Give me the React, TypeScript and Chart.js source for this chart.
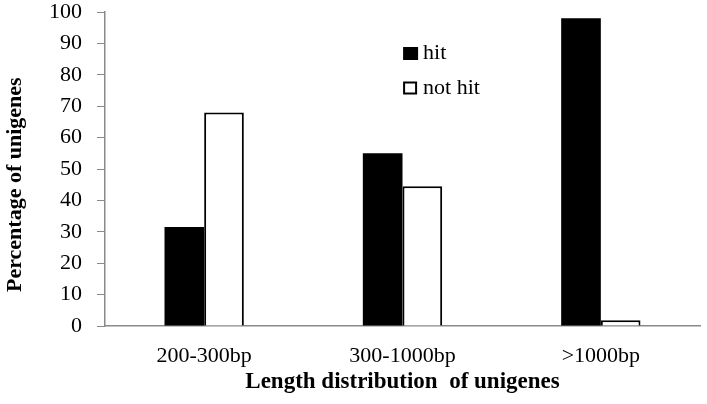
import React, { useEffect, useRef } from "react";
import { Chart, registerables } from "chart.js";

Chart.register(...registerables);

const categories = ["200-300bp", "300-1000bp", ">1000bp"];
const hitValues = [31.5, 55, 98];
const notHitValues = [68, 44.5, 1.8];
const seriesLabels = ["hit", "not hit"];
const yTicks = { min: 0, max: 100, step: 10 };
const xTitle = "Length distribution  of unigenes";
const yTitle = "Percentage of unigenes";

const FONT = "'Liberation Serif', 'Times New Roman', serif";
const AXIS = "#8a8a8a";

const customPlugin = {
  id: "customDecor",
  afterDraw(chart: any) {
    const ctx = chart.ctx;
    const ca = chart.chartArea;
    ctx.save();
    ctx.fillStyle = "#000";
    ctx.textAlign = "center";
    ctx.textBaseline = "middle";
    ctx.font = `bold 23px ${FONT}`;
    ctx.fillText(xTitle, (ca.left + ca.right) / 2, ca.bottom + 56);
    ctx.save();
    ctx.font = `bold 22px ${FONT}`;
    ctx.translate(15, ca.top + (ca.bottom - ca.top) * 0.55);
    ctx.rotate(-Math.PI / 2);
    ctx.fillText(yTitle, 0, 0);
    ctx.restore();
    // legend
    const lx = ca.left + (ca.right - ca.left) * 0.501;
    const rows = [ca.top + 41.5, ca.top + 76];
    ctx.font = `22px ${FONT}`;
    ctx.textAlign = "left";
    chart.data.datasets.forEach((ds: any, i: number) => {
      const cy = rows[i];
      if (i === 0) {
        ctx.fillStyle = "#000";
        ctx.fillRect(lx, cy - 6.5, 15, 13);
      } else {
        ctx.fillStyle = "#fff";
        ctx.fillRect(lx + 1, cy - 5.5, 12, 11);
        ctx.strokeStyle = "#000";
        ctx.lineWidth = 2;
        ctx.strokeRect(lx + 1, cy - 5.5, 12, 11);
      }
      ctx.fillStyle = "#000";
      ctx.fillText(ds.label, lx + 20, cy);
    });
    ctx.restore();
  },
};

export default function App() {
  const ref = useRef<HTMLCanvasElement>(null);
  useEffect(() => {
    if (!ref.current) return;
    const chart = new Chart(ref.current, {
      type: "bar",
      data: {
        labels: categories,
        datasets: [
          {
            label: seriesLabels[0],
            data: hitValues,
            backgroundColor: "#000",
            borderColor: "#000",
            borderWidth: 0,
            categoryPercentage: 0.4,
            barPercentage: 1,
          },
          {
            label: seriesLabels[1],
            data: notHitValues,
            backgroundColor: "#fff",
            borderColor: "#000",
            borderWidth: 2,
            categoryPercentage: 0.4,
            barPercentage: 1,
          },
        ],
      },
      options: {
        responsive: false,
        animation: false,
        layout: { padding: { top: 12, right: 7, left: 0, bottom: 0 } },
        plugins: { legend: { display: false }, tooltip: { enabled: false }, title: { display: false } },
        scales: {
          x: {
            grid: { display: false, drawTicks: false },
            border: { display: true, color: AXIS, width: 1.5 },
            ticks: { color: "#000", font: { family: FONT, size: 22 }, padding: 17 },
            afterFit: (s: any) => {
              s.height = 78;
              s.paddingLeft = 0;
              s.paddingRight = 0;
            },
          },
          y: {
            min: yTicks.min,
            max: yTicks.max,
            grid: { display: true, drawOnChartArea: false, drawTicks: true, tickLength: 8, color: AXIS },
            border: { display: true, color: AXIS, width: 1.5 },
            ticks: { stepSize: yTicks.step, color: "#000", font: { family: FONT, size: 22 }, padding: 15 },
            afterFit: (s: any) => {
              s.width = 105;
              s.paddingTop = 0;
              s.paddingBottom = 0;
            },
          },
        },
      },
      plugins: [customPlugin],
    });
    return () => chart.destroy();
  }, []);
  return (
    <div style={{ position: "absolute", left: 0, top: 0, width: 707, height: 404, background: "#fff" }}>
      <canvas ref={ref} width={707} height={404} />
    </div>
  );
}
